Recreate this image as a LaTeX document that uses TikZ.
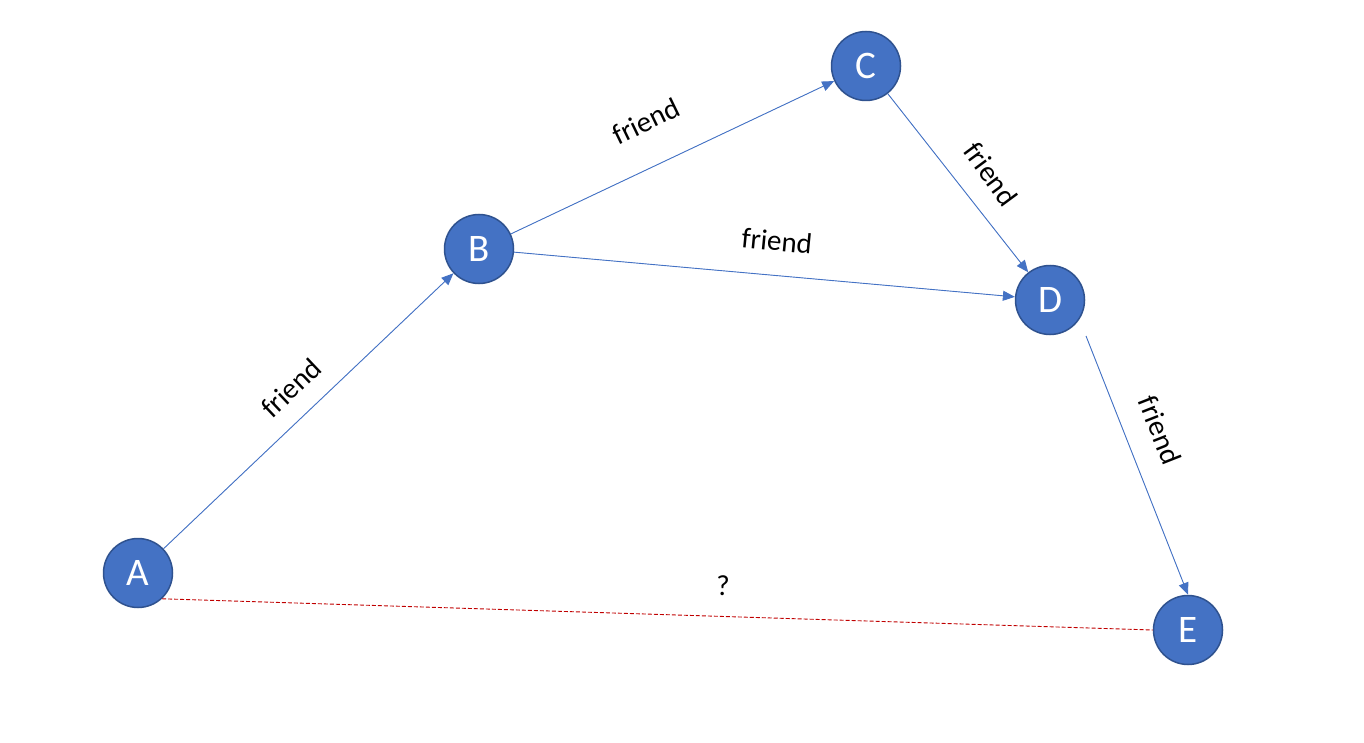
\documentclass[tikz,border=0pt]{standalone}
\usepackage{fontspec}
\setmainfont{Carlito}
\usetikzlibrary{arrows.meta}
\definecolor{nodefill}{HTML}{4472C4}
\definecolor{nodeborder}{HTML}{2F528F}
\definecolor{edgeblue}{HTML}{4472C4}
\definecolor{dashred}{HTML}{C00000}
\tikzset{
  vertex/.style={circle, fill=nodefill, draw=nodeborder, line width=1.5pt,
    minimum size=69pt, inner sep=0pt, text=white,
    font=\fontsize{39}{41}\selectfont},
  rel/.style={draw=edgeblue, line width=0.9pt,
    -{Triangle[length=12pt,width=10pt]}, fill=edgeblue},
  unknown/.style={draw=dashred, line width=0.9pt, dash pattern=on 4pt off 2pt},
  lab/.style={font=\fontsize{29}{31}\selectfont, text=black, inner sep=0pt}
}
\begin{document}
\begin{tikzpicture}[x=1pt,y=-1pt]
\useasboundingbox (0,0) rectangle (1364,743);
\node[vertex] (A) at (138,573) {A};
\node[vertex] (B) at (479,249) {B};
\node[vertex] (C) at (866,66) {C};
\node[vertex] (D) at (1050,300) {D};
\node[vertex] (E) at (1188,630) {E};
\coordinate (d0) at (1086,336);

\draw[rel] (A) -- (B);
\draw[rel] (B) -- (C);
\draw[rel] (B) -- (D);
\draw[rel] (C) -- (D);
\draw[rel] (d0) -- (E.north);
\draw[unknown] (A.-47) -- (E.west);

\node[lab, rotate=43.4] (lab1) at (291,388) {friend};
\node[lab, rotate=25.9] (lab2) at (646,121) {friend};
\node[lab, rotate=-5.6] (lab3) at (777,241) {friend};
\node[lab, rotate=-53.6] (lab4) at (991,174) {friend};
\node[lab, rotate=-68.5] (lab5) at (1160,430) {friend};
\node[lab] (lab6) at (723,586) {?};
\end{tikzpicture}
\end{document}
